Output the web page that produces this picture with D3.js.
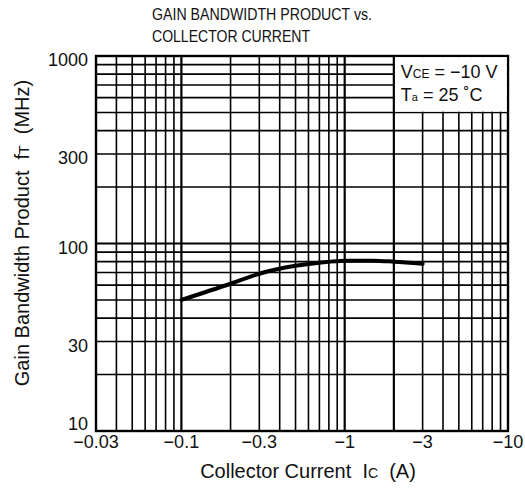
<!DOCTYPE html>
<html>
<head>
<meta charset="utf-8">
<script src="https://cdn.jsdelivr.net/npm/d3@7"></script>
<style>
  body { margin: 0; background: #fff; }
  text { font-family: "Liberation Sans", Arial, sans-serif; fill: #111; white-space: pre; }
</style>
</head>
<body>
<div class="root"></div>
<script>
// collector current (magnitude, A) and gain bandwidth product (MHz)
var currentA = [0.1, 0.2, 0.3, 0.5, 0.7, 1, 1.5, 2, 3];
var ftMHz = [50, 61, 69, 76, 79, 81, 81, 80, 78];

var xTicks = [0.03, 0.1, 0.3, 1, 3, 10];
var xTickLabels = ['\u22120.03', '\u22120.1', '\u22120.3', '\u22121', '\u22123', '\u221210'];
var yTicks = [10, 30, 100, 300, 1000];

var w = 525, h = 490;
var pLeft = 96, pRight = 508, pTop = 56, pBottom = 431;

var svg = d3.select('.root').append('svg')
  .attr('width', w)
  .attr('height', h);

var x = d3.scaleLog().domain([0.03, 10]).range([pLeft, pRight]);
var y = d3.scaleLog().domain([10, 1000]).range([pBottom, pTop]);

// grid values 1..9 per decade
var xGrid = [];
[0.01, 0.1, 1].forEach(function(dec) {
  for (var k = 1; k <= 9; k++) {
    var v = +(dec * k).toPrecision(3);
    if (v > 0.03 && v < 10) xGrid.push(v);
  }
});
var yGrid = [];
[10, 100].forEach(function(dec) {
  for (var k = 2; k <= 9; k++) yGrid.push(dec * k);
});
yGrid.push(100);

var grid = svg.append('g').attr('stroke', '#000');
grid.selectAll('line.vx')
  .data(xGrid)
  .enter().append('line')
    .attr('class', 'vx')
    .attr('x1', function(d) { return x(d); })
    .attr('x2', function(d) { return x(d); })
    .attr('y1', pTop)
    .attr('y2', pBottom)
    .attr('stroke-width', function(d) { return (d === 0.1 || d === 1 || d === 2) ? 2.2 : 1.6; });

grid.selectAll('line.hy')
  .data(yGrid)
  .enter().append('line')
    .attr('class', 'hy')
    .attr('x1', pLeft)
    .attr('x2', pRight)
    .attr('y1', function(d) { return y(d); })
    .attr('y2', function(d) { return y(d); })
    .attr('stroke-width', function(d) { return d === 100 ? 2.2 : 1.6; });

// frame
svg.append('rect')
  .attr('x', pLeft)
  .attr('y', pTop)
  .attr('width', pRight - pLeft)
  .attr('height', pBottom - pTop)
  .attr('fill', 'none')
  .attr('stroke', '#000')
  .attr('stroke-width', 2.4);

// legend cell (2 A .. 10 A, 500 .. 1000 MHz) cleared to white
svg.append('rect')
  .attr('x', x(2) + 1.1)
  .attr('y', y(1000) + 1.2)
  .attr('width', x(10) - x(2) - 2.3)
  .attr('height', y(500) - y(1000) - 2)
  .attr('fill', '#fff');

var leg = svg.append('g').style('font-size', '18px');
var t1 = leg.append('text').attr('x', x(2) + 7).attr('y', y(1000) + 22);
t1.append('tspan').text('V');
t1.append('tspan').style('font-size', '12px').text('CE');
t1.append('tspan').text(' = \u221210 V');
var t2 = leg.append('text').attr('x', x(2) + 7).attr('y', y(1000) + 45);
t2.append('tspan').text('T');
t2.append('tspan').style('font-size', '11px').text('a');
t2.append('tspan').text(' = 25 \u02DAC');

// curve
var line = d3.line()
  .x(function(d) { return x(d[0]); })
  .y(function(d) { return y(d[1]); })
  .curve(d3.curveMonotoneX);

svg.append('path')
  .datum(d3.zip(currentA, ftMHz))
  .attr('d', line)
  .attr('fill', 'none')
  .attr('stroke', '#000')
  .attr('stroke-width', 4)
  .attr('stroke-linecap', 'round');

// tick labels
svg.append('g').selectAll('text')
  .data(yTicks)
  .enter().append('text')
    .attr('x', pLeft - 8)
    .attr('y', function(d) { return Math.max(pTop + 7, Math.min(pBottom - 1, y(d) + 10)); })
    .attr('text-anchor', 'end')
    .style('font-size', '18px')
    .text(function(d) { return d; });

svg.append('g').selectAll('text')
  .data(xTicks)
  .enter().append('text')
    .attr('x', function(d) { return x(d); })
    .attr('y', pBottom + 17)
    .attr('text-anchor', 'middle')
    .style('font-size', '18px')
    .text(function(d, i) { return xTickLabels[i]; });

// axis titles
var xl = svg.append('text')
  .attr('x', 308)
  .attr('y', 478)
  .attr('text-anchor', 'middle')
  .style('font-size', '20px');
xl.append('tspan').text('Collector Current  I');
xl.append('tspan').style('font-size', '14px').text('C');
xl.append('tspan').text('  (A)');

var yl = svg.append('text')
  .attr('transform', 'translate(29,233) rotate(-90)')
  .attr('text-anchor', 'middle')
  .style('font-size', '20px');
yl.append('tspan').text('Gain Bandwidth Product  f');
yl.append('tspan').style('font-size', '14px').text('T');
yl.append('tspan').text('  (MHz)');

// title
var title = svg.append('g').style('font-size', '16px');
title.append('text').attr('x', 152).attr('y', 20)
  .attr('textLength', 220).attr('lengthAdjust', 'spacingAndGlyphs')
  .text('GAIN BANDWIDTH PRODUCT vs.');
title.append('text').attr('x', 152).attr('y', 42)
  .attr('textLength', 158).attr('lengthAdjust', 'spacingAndGlyphs')
  .text('COLLECTOR CURRENT');
</script>
</body>
</html>
